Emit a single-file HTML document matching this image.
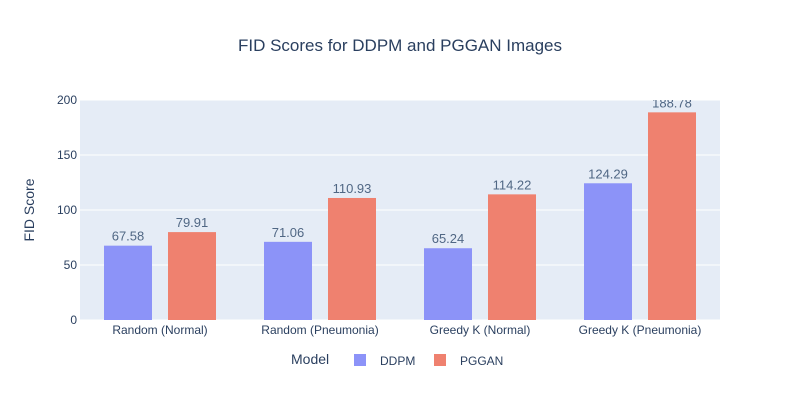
<!DOCTYPE html>
<html><head><meta charset="utf-8"><style>body{margin:0;background:#fff}text{font-family:"Liberation Sans",sans-serif}</style></head>
<body>
<svg id="c" width="800" height="400"></svg>
<script>
const categories=["Random (Normal)","Random (Pneumonia)","Greedy K (Normal)","Greedy K (Pneumonia)"];
const ddpm=[67.58,71.06,65.24,124.29];
const pggan=[79.91,110.93,114.22,188.78];
const yTicks=[0,50,100,150,200];
const NS="http://www.w3.org/2000/svg";
const svg=document.getElementById('c');
const L=80,R=720,T=100,B=320,yMax=200;
const y=v=>B-(v/yMax)*(B-T);
const bw=(R-L)/categories.length;
const xc=i=>L+bw*(i+0.5);
function mk(tag,attrs,parent){const e=document.createElementNS(NS,tag);for(const k in attrs)e.setAttribute(k,attrs[k]);(parent||svg).appendChild(e);return e;}
const bg=mk('rect',{x:L,y:T,width:R-L,height:B-T,fill:'#e5ecf6'});


const defs=mk('defs',{});const cp=mk('clipPath',{id:'clip'},defs);mk('rect',{x:L,y:T,width:R-L,height:B-T},cp);
yTicks.forEach(t=>{
 const g=mk('line',{x1:L,x2:R,y1:y(t),y2:y(t),stroke:'#fff','stroke-width':1});
 
 
 const tl=mk('text',{x:L-3,y:y(t)+4,'text-anchor':'end','font-size':12,fill:'#2a3f5f'});tl.textContent=t;
 
 
});
const g=mk('g',{'clip-path':'url(#clip)'});
function bars(vals,off,color,name){
 vals.forEach((v,i)=>{
  const x=xc(i)+off-24;
  const r=mk('rect',{x:x,y:y(v),width:48,height:B-y(v),fill:color},g);
  
  
  const t=mk('text',{x:x+24,y:y(v)-5,'text-anchor':'middle','font-size':13,fill:'#506784'},g);t.textContent=v.toFixed(2);
  
  
 });
}
bars(ddpm,-32,'#8c93f8','ddpm');
bars(pggan,32,'#ef816f','pggan');
categories.forEach((c,i)=>{
 const t=mk('text',{x:xc(i),y:B+14,'text-anchor':'middle','font-size':12,fill:'#2a3f5f'});t.textContent=c;
 
 
});
const ti=mk('text',{x:400,y:51,'text-anchor':'middle','font-size':17,fill:'#2a3f5f'});ti.textContent='FID Scores for DDPM and PGGAN Images';


const ya=mk('text',{x:34,y:210,'text-anchor':'middle','font-size':14,fill:'#2a3f5f',transform:'rotate(-90 34 210)'});ya.textContent='FID Score';


const lt=mk('text',{x:291,y:364,'font-size':14,fill:'#2a3f5f'});lt.textContent='Model';


[['DDPM','#8c93f8',354],['PGGAN','#ef816f',434]].forEach(([n,c,x])=>{
 const s=mk('rect',{x:x,y:354,width:12,height:12,fill:c});
 
 
 const t=mk('text',{x:x+26,y:365,'font-size':12,fill:'#2a3f5f'});t.textContent=n;
 
 
});
</script>
</body></html>
